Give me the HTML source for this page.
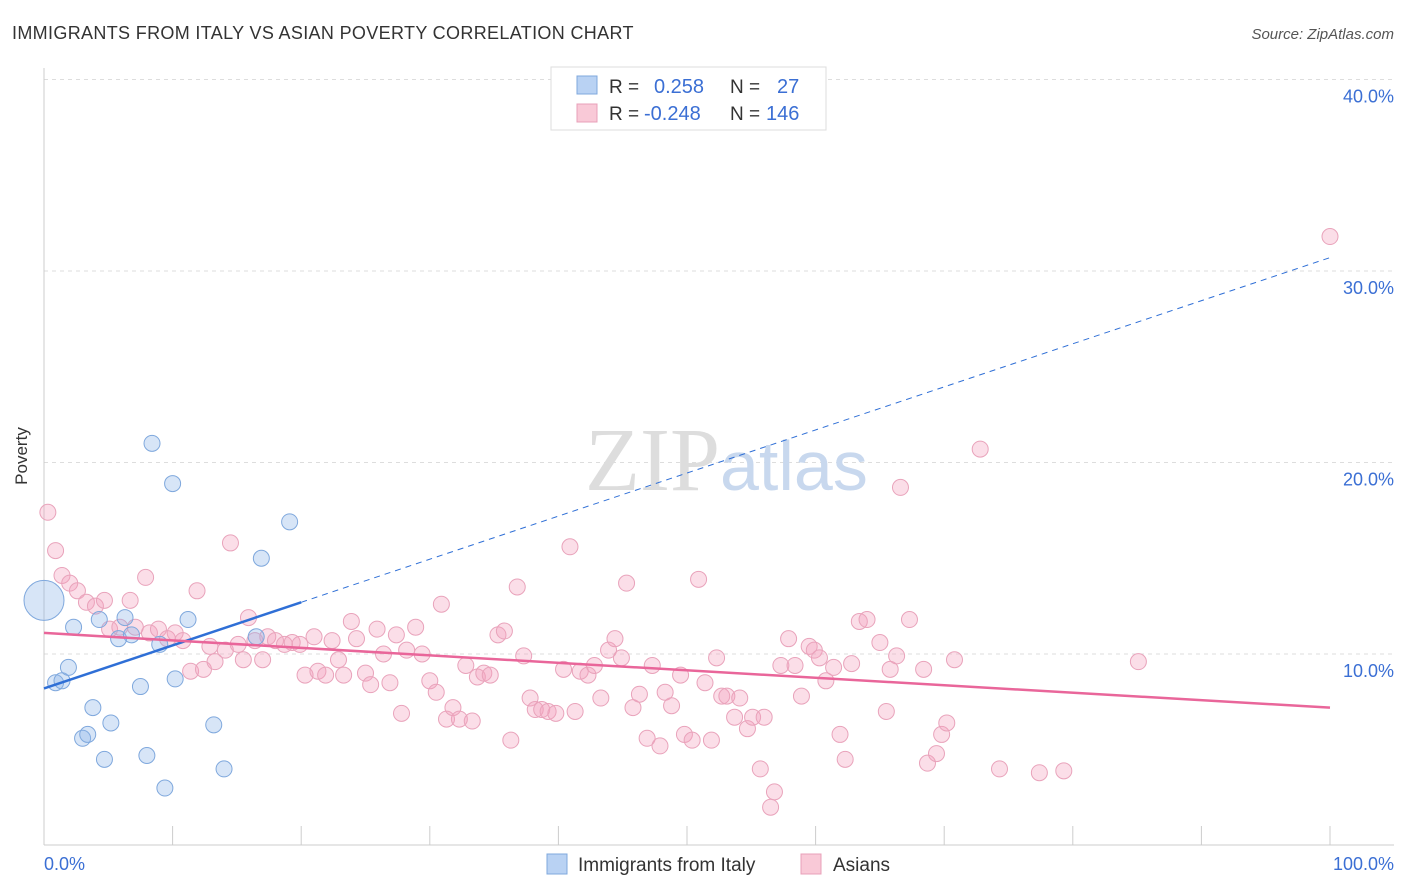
<!DOCTYPE html>
<html><head><meta charset="utf-8"><style>
body{margin:0;background:#fff;font-family:"Liberation Sans",sans-serif;}
svg{display:block}
</style></head><body>
<svg width="1406" height="892" xmlns="http://www.w3.org/2000/svg">
<text x="12" y="39" font-size="18" fill="#333" letter-spacing="0.34">IMMIGRANTS FROM ITALY VS ASIAN POVERTY CORRELATION CHART</text>
<text x="1394" y="39" font-size="15" fill="#555" font-style="italic" text-anchor="end">Source: ZipAtlas.com</text>
<g id="grid"></g>
<text x="720" y="490" font-size="90" fill="#ddd" text-anchor="end" font-family="Liberation Serif">ZIP</text>
<text x="720" y="490" font-size="70" fill="#c8d8ee">atlas</text>
<g id="axes"></g>
<g id="pts"></g>
<g id="lines"></g>
<text x="27" y="456" font-size="17" fill="#333" text-anchor="middle" transform="rotate(-90 27 456)">Poverty</text>
<text x="44" y="870" font-size="18" fill="#3b6fd4">0.0%</text>
<text x="1394" y="870" font-size="18" fill="#3b6fd4" text-anchor="end">100.0%</text>
<g>
<rect x="551" y="67" width="275" height="63" fill="#fff" stroke="#ddd"/>
<rect x="577" y="76" width="20" height="18" fill="#b9d2f3" stroke="#7fa8dd"/>
<rect x="577" y="104" width="20" height="18" fill="#f9c9d7" stroke="#e8a0b8"/>
<text x="609" y="93" font-size="19" fill="#333">R =</text>
<text x="654" y="93" font-size="20" fill="#3b6fd4">0.258</text>
<text x="730" y="93" font-size="19" fill="#333">N =</text>
<text x="777" y="93" font-size="20" fill="#3b6fd4">27</text>
<text x="609" y="120" font-size="19" fill="#333">R =</text>
<text x="644" y="120" font-size="20" fill="#3b6fd4">-0.248</text>
<text x="730" y="120" font-size="19" fill="#333">N =</text>
<text x="766" y="120" font-size="20" fill="#3b6fd4">146</text>
</g>
<g>
<rect x="547" y="854" width="20" height="20" fill="#b9d2f3" stroke="#7fa8dd"/>
<text x="578" y="871" font-size="19" fill="#333">Immigrants from Italy</text>
<rect x="801" y="854" width="20" height="20" fill="#f9c9d7" stroke="#e8a0b8"/>
<text x="833" y="871" font-size="19" fill="#333">Asians</text>
</g>
</svg>
<script>
const yTicks=[10,20,30,40];
const yTickLabels=["10.0%","20.0%","30.0%","40.0%"];
const xTicks=[0,10,20,30,40,50,60,70,80,90,100];
const blueX=[0,0.9,1.4,1.9,2.3,4.3,5.8,6.3,6.8,8.4,10.0,11.2,9.0,10.2,7.5,3.8,5.2,3.0,3.4,4.7,8.0,9.4,13.2,14.0,16.9,19.1,16.5];
const blueY=[12.8,8.5,8.6,9.3,11.4,11.8,10.8,11.9,11.0,21.0,18.9,11.8,10.5,8.7,8.3,7.2,6.4,5.6,5.8,4.5,4.7,3.0,6.3,4.0,15.0,16.9,10.9];
const blueR=[20,8,8,8,8,8,8,8,8,8,8,8,8,8,8,8,8,8,8,8,8,8,8,8,8,8,8];
const pinkX=[0.3,0.9,1.4,2.0,2.6,3.3,4.0,4.7,5.1,5.9,6.7,7.1,7.9,8.2,8.9,9.6,10.2,10.8,11.4,11.9,12.4,12.9,13.3,14.1,14.5,15.1,15.5,15.9,16.4,17.0,17.4,18.0,18.7,19.3,19.9,20.3,21.0,21.3,21.9,22.4,22.9,23.3,23.9,24.3,25.0,25.4,25.9,26.4,26.9,27.4,27.8,28.2,28.9,29.4,30.0,30.5,30.9,31.3,31.8,32.3,32.8,33.3,33.7,34.2,34.7,35.3,35.8,36.3,36.8,37.3,37.8,38.2,38.7,39.2,39.8,40.4,40.9,41.3,41.7,42.3,42.8,43.3,43.9,44.4,44.9,45.3,45.8,46.3,46.9,47.3,47.9,48.3,48.8,49.5,49.8,50.4,50.9,51.4,51.9,52.3,52.7,53.1,53.7,54.1,54.7,55.1,55.7,56.0,56.5,56.8,57.3,57.9,58.4,58.9,59.5,59.9,60.3,60.8,61.4,61.9,62.3,62.8,63.4,64.0,65.0,65.5,65.8,66.3,66.6,67.3,68.4,68.7,69.4,69.8,70.2,70.8,72.8,74.3,77.4,79.3,85.1,100];
const pinkY=[17.4,15.4,14.1,13.7,13.3,12.7,12.5,12.8,11.3,11.4,12.8,11.4,14.0,11.1,11.3,10.8,11.1,10.7,9.1,13.3,9.2,10.4,9.6,10.2,15.8,10.5,9.7,11.9,10.7,9.7,10.9,10.7,10.5,10.6,10.5,8.9,10.9,9.1,8.9,10.7,9.7,8.9,11.7,10.8,9.0,8.4,11.3,10.0,8.5,11.0,6.9,10.2,11.4,10.0,8.6,8.0,12.6,6.6,7.2,6.6,9.4,6.5,8.8,9.0,8.9,11.0,11.2,5.5,13.5,9.9,7.7,7.1,7.1,7.0,6.9,9.2,15.6,7.0,9.1,8.9,9.4,7.7,10.2,10.8,9.8,13.7,7.2,7.9,5.6,9.4,5.2,8.0,7.3,8.9,5.8,5.5,13.9,8.5,5.5,9.8,7.8,7.8,6.7,7.7,6.1,6.7,4.0,6.7,2.0,2.8,9.4,10.8,9.4,7.8,10.4,10.2,9.8,8.6,9.3,5.8,4.5,9.5,11.7,11.8,10.6,7.0,9.2,9.9,18.7,11.8,9.2,4.3,4.8,5.8,6.4,9.7,20.7,4.0,3.8,3.9,9.6,31.8];
const W0=44,W1=1330,Y0=845.5,PX=19.15;
const xs=v=>W0+(W1-W0)*v/100, ys=v=>Y0-v*PX;
const NS="http://www.w3.org/2000/svg";
function mk(t,a,p){const e=document.createElementNS(NS,t);for(const k in a)e.setAttribute(k,a[k]);p.appendChild(e);return e;}
const grid=document.getElementById('grid'),axes=document.getElementById('axes'),pts=document.getElementById('pts'),lines=document.getElementById('lines');
yTicks.forEach((t,i)=>{const y=ys(t);
const l=mk('line',{x1:44,x2:1394,y1:y,y2:y,stroke:'#ddd','stroke-dasharray':'4,4'},grid);


const tx=mk('text',{x:1394,y:y+23,'font-size':18,fill:'#3b6fd4','text-anchor':'end'},axes);tx.textContent=yTickLabels[i];

});
const ax=mk('line',{x1:44,x2:1394,y1:845,y2:845,stroke:'#ccc'},axes);


const ay=mk('line',{x1:44,x2:44,y1:68,y2:845,stroke:'#ccc'},axes);


xTicks.forEach(t=>{const x=xs(t);const l=mk('line',{x1:x,x2:x,y1:826,y2:845,stroke:'#ccc'},axes);

});
pinkX.forEach((v,i)=>{const c=mk('circle',{cx:xs(v),cy:ys(pinkY[i]),r:8,fill:'rgba(244,160,188,0.35)',stroke:'#e9a3bb','stroke-width':1},pts);

});
blueX.forEach((v,i)=>{const c=mk('circle',{cx:xs(v),cy:ys(blueY[i]),r:blueR[i],fill:'rgba(140,180,232,0.35)',stroke:'#7fa8dd','stroke-width':1},pts);

});
const b1=mk('line',{x1:xs(0),y1:ys(8.2),x2:xs(20),y2:ys(12.7),stroke:'#2f6fd6','stroke-width':2.5},lines);


const b2=mk('line',{x1:xs(20),y1:ys(12.7),x2:xs(100),y2:ys(30.7),stroke:'#2f6fd6','stroke-width':1,'stroke-dasharray':'6,5'},lines);


const p1=mk('line',{x1:xs(0),y1:ys(11.1),x2:xs(100),y2:ys(7.2),stroke:'#e9669a','stroke-width':2.5},lines);


</script>
</body></html>
